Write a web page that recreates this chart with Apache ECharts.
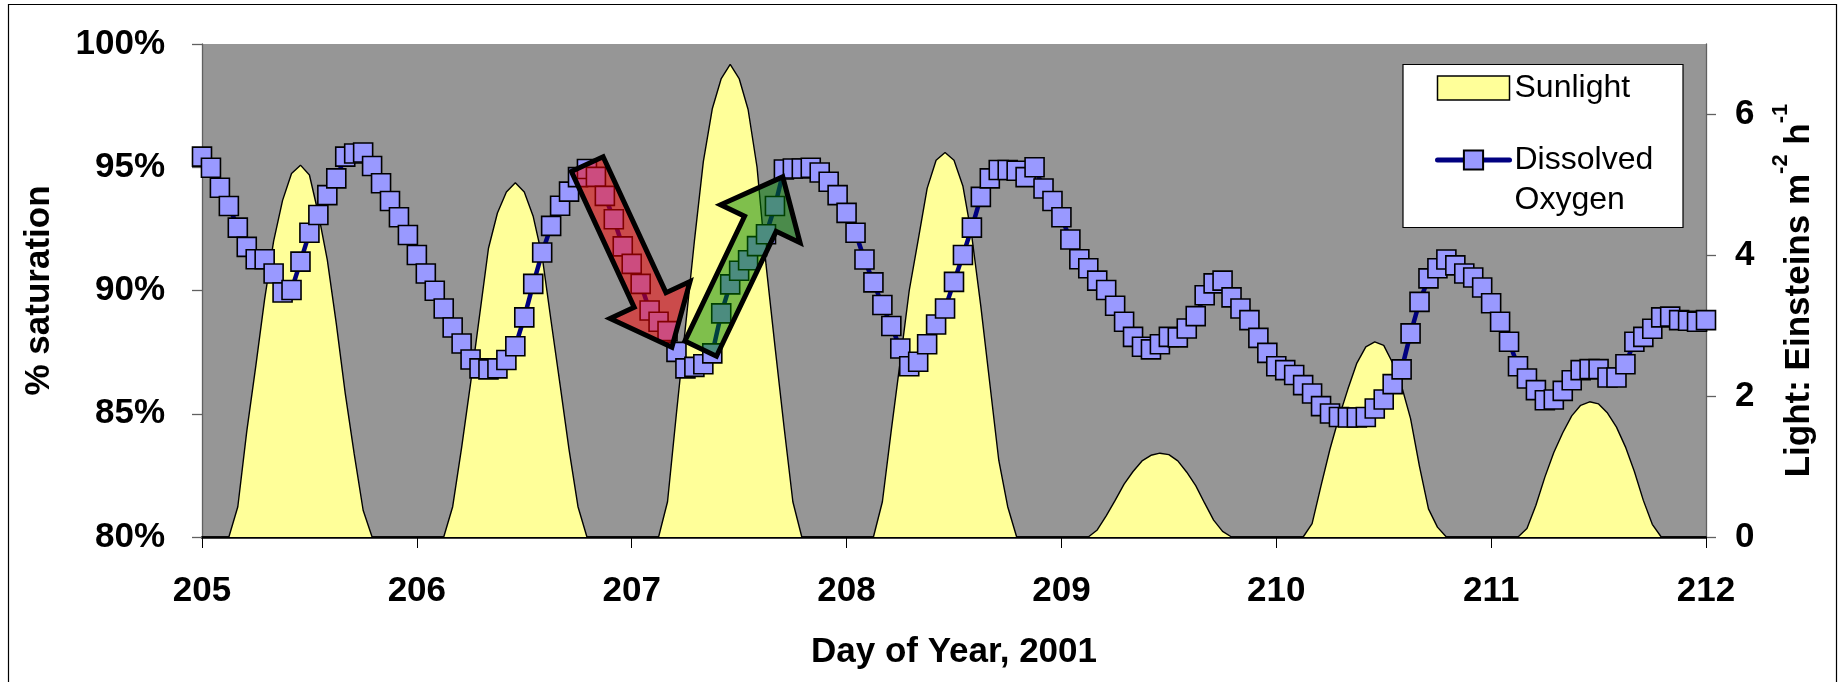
<!DOCTYPE html>
<html>
<head>
<meta charset="utf-8">
<script src="https://cdn.jsdelivr.net/npm/echarts@6.0.0/dist/echarts.min.js"></script>
<style>
html,body{margin:0;padding:0;background:#fff;}
#chart{width:1843px;height:682px;}
</style>
</head>
<body>
<div id="chart"></div>
<script>
const FONT = '"Liberation Sans", Arial, Helvetica, sans-serif';

// x axis: day of year, hourly samples
const firstDay = 205;
const lastDay = 212;
const samplesPerDay = 24;

// tick values
const oxygenTicks = [80, 85, 90, 95, 100];
const lightTicks = [0, 2, 4, 6];

// Dissolved oxygen, % saturation, hourly
const dissolvedOxygen = [
  95.43, 94.98, 94.17, 93.43, 92.55, 91.77, 91.27, 91.27, 90.69, 89.92, 90.02, 91.17, 92.34, 93.06, 93.87, 94.55, 95.43, 95.56, 95.60, 95.05, 94.35, 93.63, 92.97, 92.25,
  91.44, 90.69, 89.99, 89.27, 88.50, 87.85, 87.20, 86.84, 86.80, 86.84, 87.18, 87.74, 88.91, 90.27, 91.54, 92.62, 93.44, 94.01, 94.60, 94.93, 94.61, 93.84, 92.89, 91.79,
  91.08, 90.27, 89.19, 88.73, 88.35, 87.51, 86.84, 86.90, 87.01, 87.45, 89.07, 90.25, 90.80, 91.23, 91.80, 92.28, 93.43, 94.91, 94.95, 94.95, 94.98, 94.79, 94.41, 93.87,
  93.15, 92.34, 91.26, 90.33, 89.41, 88.56, 87.65, 86.93, 87.11, 87.82, 88.62, 89.27, 90.35, 91.44, 92.55, 93.80, 94.55, 94.89, 94.89, 94.86, 94.60, 95.00, 94.14, 93.63,
  92.97, 92.07, 91.27, 90.90, 90.40, 90.02, 89.38, 88.73, 88.12, 87.72, 87.61, 87.82, 88.12, 88.10, 88.46, 88.96, 89.81, 90.29, 90.40, 89.72, 89.27, 88.80, 88.08, 87.47,
  86.93, 86.77, 86.57, 86.16, 85.82, 85.31, 85.01, 84.87, 84.85, 84.85, 84.87, 85.21, 85.58, 86.20, 86.80, 88.26, 89.54, 90.49, 90.90, 91.26, 91.02, 90.69, 90.53, 90.12,
  89.48, 88.73, 87.92, 86.93, 86.43, 85.96, 85.55, 85.58, 85.93, 86.36, 86.77, 86.81, 86.81, 86.47, 86.47, 87.01, 87.92, 88.12, 88.45, 88.91, 88.94, 88.80, 88.77, 88.73,
  88.80
];

// Sunlight, Einsteins m-2 h-1, hourly
const sunlight = [
  0, 0, 0, 0, 0.43, 1.50, 2.42, 3.38, 4.20, 4.78, 5.16, 5.28, 5.14, 4.59, 3.93, 3.03, 2.04, 1.18, 0.38, 0, 0, 0, 0, 0,
  0, 0, 0, 0, 0.43, 1.27, 2.18, 3.14, 4.10, 4.60, 4.90, 5.03, 4.90, 4.55, 3.98, 3.06, 2.16, 1.24, 0.43, 0, 0, 0, 0, 0,
  0, 0, 0, 0, 0.50, 1.76, 2.98, 4.20, 5.33, 6.08, 6.51, 6.71, 6.51, 6.07, 5.25, 3.87, 2.71, 1.58, 0.50, 0, 0, 0, 0, 0,
  0, 0, 0, 0, 0.50, 1.52, 2.50, 3.50, 4.22, 4.95, 5.35, 5.46, 5.35, 4.98, 4.26, 3.27, 2.18, 1.09, 0.43, 0, 0, 0, 0, 0,
  0, 0, 0, 0, 0.10, 0.30, 0.52, 0.75, 0.93, 1.08, 1.16, 1.19, 1.17, 1.08, 0.92, 0.73, 0.48, 0.24, 0.08, 0, 0, 0, 0, 0,
  0, 0, 0, 0, 0.19, 0.73, 1.25, 1.70, 2.10, 2.47, 2.70, 2.77, 2.72, 2.47, 2.14, 1.68, 1.00, 0.40, 0.14, 0, 0, 0, 0, 0,
  0, 0, 0, 0, 0.12, 0.45, 0.85, 1.20, 1.48, 1.72, 1.87, 1.92, 1.89, 1.76, 1.56, 1.28, 0.93, 0.52, 0.18, 0, 0, 0, 0, 0,
  0
];

// annotation arrows, in data coordinates [day, % saturation]
const fallArrow = { from: [206.793, 95.13], to: [207.187, 87.70] };
const riseArrow = { from: [207.321, 87.64], to: [207.703, 94.61] };

const oxygenData = dissolvedOxygen.map((v, i) => [firstDay + i / samplesPerDay, v]);
const lightData = sunlight.map((v, i) => [firstDay + i / samplesPerDay, v]);

const chart = echarts.init(document.getElementById('chart'), null, { renderer: 'canvas' });

const boldText = { fontFamily: FONT, fontWeight: 'bold', fontSize: 35, color: '#000' };

const option = {
  animation: false,
  backgroundColor: '#fff',
  grid: {
    left: 202, top: 44, right: 137, bottom: 145,
    show: true, backgroundColor: '#969696', borderWidth: 0,
    containLabel: false, outerBoundsMode: 'none'
  },
  legend: {
    orient: 'vertical',
    left: 1435, top: 68,
    padding: 0,
    itemWidth: 72, itemHeight: 24, itemGap: -8, itemTextGap: 8,
    lineStyle: { color: '#000080', width: 5, cap: 'round' },
    textStyle: {
      fontFamily: FONT, fontSize: 32, color: '#000', lineHeight: 40,
      rich: { t: { fontFamily: FONT, fontSize: 32, color: '#000', lineHeight: 40 } }
    },
    formatter: name => name === 'Dissolved Oxygen' ? '{t| }\n{t|Dissolved}\n{t|Oxygen}' : name,
    data: [
      { name: 'Sunlight', icon: 'rect', itemStyle: { color: '#FFFF99', borderColor: '#000', borderWidth: 1.5 } },
      { name: 'Dissolved Oxygen' }
    ]
  },
  xAxis: {
    type: 'value', min: firstDay, max: lastDay, interval: 1,
    name: 'Day of Year, 2001', nameLocation: 'middle', nameGap: 98,
    nameMoveOverlap: false,
    nameTextStyle: boldText,
    axisLine: { show: true, onZero: false, lineStyle: { color: '#000', width: 2.5 } },
    axisTick: { show: true, inside: false, length: 11, lineStyle: { color: '#000', width: 1 } },
    axisLabel: Object.assign({ margin: 37 }, boldText),
    splitLine: { show: false }
  },
  yAxis: [
    {
      type: 'value', min: oxygenTicks[0], max: oxygenTicks[oxygenTicks.length - 1], interval: 5,
      position: 'left',
      name: '% saturation', nameLocation: 'middle', nameGap: 145, nameRotate: 90,
      nameMoveOverlap: false,
      nameTextStyle: boldText,
      axisLine: { show: true, onZero: false, lineStyle: { color: '#606060', width: 1.3 } },
      axisTick: { show: true, inside: false, length: 10, lineStyle: { color: '#606060', width: 1.3 } },
      axisLabel: Object.assign({ margin: 37, formatter: '{value}%' }, boldText),
      splitLine: { show: false }
    },
    {
      type: 'value', min: 0, max: 7, interval: 2,
      position: 'right',
      name: '{m|Light: Einsteins m}{s|-2}{m| h}{s|-1}',
      nameLocation: 'middle', nameGap: 64, nameRotate: 90,
      nameMoveOverlap: false,
      nameTextStyle: {
        rich: {
          m: { fontFamily: FONT, fontWeight: 'bold', fontSize: 35, color: '#000', lineHeight: 58 },
          s: { fontFamily: FONT, fontWeight: 'bold', fontSize: 22, color: '#000', lineHeight: 22, verticalAlign: 'top' }
        }
      },
      axisLine: { show: true, onZero: false, lineStyle: { color: '#606060', width: 1.3 } },
      axisTick: { show: true, inside: false, length: 10, customValues: lightTicks, lineStyle: { color: '#606060', width: 1.3 } },
      axisLabel: Object.assign({ margin: 29, customValues: lightTicks }, boldText),
      splitLine: { show: false }
    }
  ],
  series: [
    {
      name: 'Sunlight', type: 'line', yAxisIndex: 1, data: lightData,
      symbol: 'none', smooth: false, z: 1,
      itemStyle: { color: '#FFFF99' },
      lineStyle: { color: '#000', width: 1.4 },
      areaStyle: { color: '#FFFF99', opacity: 1 }
    },
    {
      name: 'Dissolved Oxygen', type: 'line', yAxisIndex: 0, data: oxygenData,
      symbol: 'rect', symbolSize: 19, smooth: false, z: 3,
      lineStyle: { color: '#000080', width: 4.5 },
      itemStyle: { color: '#9999FF', borderColor: '#000', borderWidth: 1.6 }
    }
  ]
};

chart.setOption(option);

function arrowPolygon(arrow) {
  const a = chart.convertToPixel({ xAxisIndex: 0, yAxisIndex: 0 }, arrow.from);
  const b = chart.convertToPixel({ xAxisIndex: 0, yAxisIndex: 0 }, arrow.to);
  const dx = b[0] - a[0], dy = b[1] - a[1];
  const len = Math.sqrt(dx * dx + dy * dy);
  const ux = dx / len, uy = dy / len;
  const nx = -uy, ny = ux;
  const shaftHalf = 17.5, headHalf = 44, headLen = 52;
  const bx = b[0] - ux * headLen, by = b[1] - uy * headLen;
  return [
    [a[0] + nx * shaftHalf, a[1] + ny * shaftHalf],
    [bx + nx * shaftHalf, by + ny * shaftHalf],
    [bx + nx * headHalf, by + ny * headHalf],
    [b[0], b[1]],
    [bx - nx * headHalf, by - ny * headHalf],
    [bx - nx * shaftHalf, by - ny * shaftHalf],
    [a[0] - nx * shaftHalf, a[1] - ny * shaftHalf]
  ];
}

// legend frame position in pixels
const legendBox = { x: 1403, y: 64.5, width: 280, height: 163 };

chart.setOption({
  graphic: [
    {
      type: 'rect', id: 'frame', silent: true, z: 200,
      shape: { x: 8.5, y: 4.5, width: 1828, height: 700 },
      style: { fill: 'none', stroke: '#000', lineWidth: 1.2 }
    },
    {
      type: 'rect', id: 'legendFrame', silent: true, z: 3.5,
      shape: legendBox,
      style: { fill: '#fff', stroke: '#000', lineWidth: 1.2 }
    },
    {
      type: 'polygon', id: 'fall', z: 100,
      shape: { points: arrowPolygon(fallArrow) },
      style: { fill: 'rgba(255,0,0,0.5)', stroke: '#000', lineWidth: 5, lineJoin: 'miter' }
    },
    {
      type: 'polygon', id: 'rise', z: 100,
      shape: { points: arrowPolygon(riseArrow) },
      style: { fill: 'rgba(0,128,0,0.5)', stroke: '#000', lineWidth: 5, lineJoin: 'miter' }
    }
  ]
});
</script>
</body>
</html>
